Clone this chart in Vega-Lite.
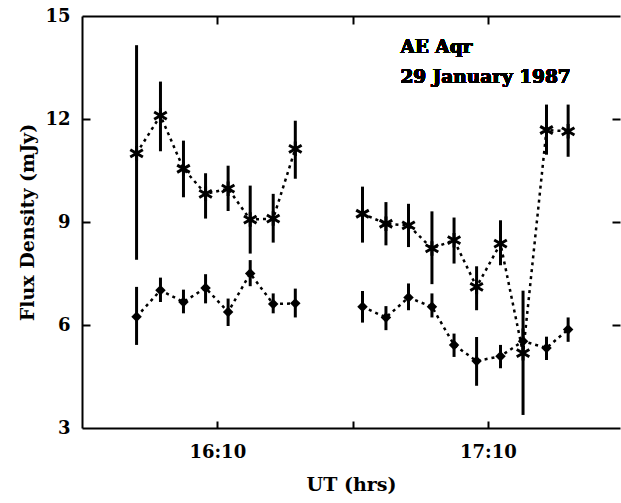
{
  "$schema": "https://vega.github.io/schema/vega-lite/v6.json",
  "autosize": "none",
  "width": 538,
  "height": 412,
  "padding": {"left": 82, "top": 16, "right": 1, "bottom": 75},
  "background": "white",
  "config": {
    "view": {"stroke": null},
    "font": "DejaVu Serif",
    "axis": {
      "grid": false,
      "domainColor": "black",
      "domainWidth": 2,
      "tickColor": "black",
      "tickWidth": 2,
      "labelColor": "black",
      "titleColor": "black",
      "labelFont": "DejaVu Serif",
      "titleFont": "DejaVu Serif",
      "labelFontWeight": "bold",
      "titleFontWeight": "bold",
      "labelFontSize": 18,
      "titleFontSize": 19
    }
  },
  "datasets": {
    "flux": [
      {"t": 952.1, "flux": 11.0, "lo": 7.9, "hi": 14.15, "series": "ast", "grp": 1},
      {"t": 957.4, "flux": 12.1, "lo": 11.06, "hi": 13.09, "series": "ast", "grp": 1},
      {"t": 962.5, "flux": 10.55, "lo": 9.72, "hi": 11.37, "series": "ast", "grp": 1},
      {"t": 967.4, "flux": 9.82, "lo": 9.1, "hi": 10.42, "series": "ast", "grp": 1},
      {"t": 972.4, "flux": 9.97, "lo": 9.32, "hi": 10.64, "series": "ast", "grp": 1},
      {"t": 977.3, "flux": 9.07, "lo": 8.08, "hi": 10.06, "series": "ast", "grp": 1},
      {"t": 982.4, "flux": 9.1, "lo": 8.4, "hi": 9.82, "series": "ast", "grp": 1},
      {"t": 987.3, "flux": 11.13, "lo": 10.26, "hi": 11.95, "series": "ast", "grp": 1},
      {"t": 1002.2, "flux": 9.24, "lo": 8.4, "hi": 10.03, "series": "ast", "grp": 2},
      {"t": 1007.4, "flux": 8.95, "lo": 8.32, "hi": 9.58, "series": "ast", "grp": 2},
      {"t": 1012.4, "flux": 8.9, "lo": 8.27, "hi": 9.53, "series": "ast", "grp": 2},
      {"t": 1017.6, "flux": 8.23, "lo": 7.19, "hi": 9.31, "series": "ast", "grp": 2},
      {"t": 1022.5, "flux": 8.47, "lo": 7.79, "hi": 9.13, "series": "ast", "grp": 2},
      {"t": 1027.5, "flux": 7.11, "lo": 6.43, "hi": 7.71, "series": "ast", "grp": 2},
      {"t": 1032.8, "flux": 8.37, "lo": 7.74, "hi": 9.05, "series": "ast", "grp": 2},
      {"t": 1037.8, "flux": 5.18, "lo": 3.38, "hi": 7.0, "series": "ast", "grp": 2},
      {"t": 1043.0, "flux": 11.68, "lo": 10.96, "hi": 12.42, "series": "ast", "grp": 2},
      {"t": 1047.8, "flux": 11.64, "lo": 10.9, "hi": 12.42, "series": "ast", "grp": 2},
      {"t": 952.1, "flux": 6.24, "lo": 5.42, "hi": 7.11, "series": "dia", "grp": 1},
      {"t": 957.4, "flux": 7.01, "lo": 6.67, "hi": 7.38, "series": "dia", "grp": 1},
      {"t": 962.5, "flux": 6.67, "lo": 6.34, "hi": 7.03, "series": "dia", "grp": 1},
      {"t": 967.4, "flux": 7.08, "lo": 6.63, "hi": 7.48, "series": "dia", "grp": 1},
      {"t": 972.4, "flux": 6.38, "lo": 5.97, "hi": 6.77, "series": "dia", "grp": 1},
      {"t": 977.3, "flux": 7.5, "lo": 7.13, "hi": 7.89, "series": "dia", "grp": 1},
      {"t": 982.4, "flux": 6.61, "lo": 6.34, "hi": 6.92, "series": "dia", "grp": 1},
      {"t": 987.3, "flux": 6.63, "lo": 6.22, "hi": 7.06, "series": "dia", "grp": 1},
      {"t": 1002.2, "flux": 6.53, "lo": 6.07, "hi": 6.99, "series": "dia", "grp": 2},
      {"t": 1007.4, "flux": 6.22, "lo": 5.85, "hi": 6.55, "series": "dia", "grp": 2},
      {"t": 1012.4, "flux": 6.8, "lo": 6.43, "hi": 7.21, "series": "dia", "grp": 2},
      {"t": 1017.6, "flux": 6.53, "lo": 6.22, "hi": 6.92, "series": "dia", "grp": 2},
      {"t": 1022.5, "flux": 5.42, "lo": 5.07, "hi": 5.75, "series": "dia", "grp": 2},
      {"t": 1027.5, "flux": 4.95, "lo": 4.23, "hi": 5.65, "series": "dia", "grp": 2},
      {"t": 1032.8, "flux": 5.09, "lo": 4.74, "hi": 5.42, "series": "dia", "grp": 2},
      {"t": 1037.8, "flux": 5.53, "lo": 5.15, "hi": 5.9, "series": "dia", "grp": 2},
      {"t": 1043.0, "flux": 5.33, "lo": 4.98, "hi": 5.66, "series": "dia", "grp": 2},
      {"t": 1047.8, "flux": 5.87, "lo": 5.51, "hi": 6.22, "series": "dia", "grp": 2}
    ]
  },
  "data": {"name": "flux"},
  "layer": [
    {
      "encoding": {
        "x": {
          "field": "t",
          "type": "quantitative",
          "scale": {"domain": [940, 1059.3], "nice": false, "zero": false},
          "axis": {
            "orient": "bottom",
            "title": "UT (hrs)",
            "values": [970, 1000, 1030],
            "labelExpr": "datum.value == 970 ? '16:10' : (datum.value == 1030 ? '17:10' : '')",
            "ticks": false,
            "labelPadding": 15,
            "titlePadding": 14
          }
        },
        "y": {
          "field": "flux",
          "type": "quantitative",
          "scale": {"domain": [3, 15], "nice": false, "zero": false},
          "axis": {
            "orient": "left",
            "title": "Flux Density (mJy)",
            "values": [3, 6, 9, 12, 15],
            "ticks": false,
            "labelPadding": 12,
            "titlePadding": 7
          }
        }
      },
      "layer": [
        {
          "mark": {"type": "rule", "strokeWidth": 3, "color": "black"},
          "encoding": {
            "y": {"field": "lo", "type": "quantitative"},
            "y2": {"field": "hi"}
          }
        },
        {
          "mark": {"type": "line", "color": "black", "strokeWidth": 2.5, "strokeDash": [3, 4]},
          "encoding": {
            "detail": [{"field": "series"}, {"field": "grp"}]
          }
        },
        {
          "transform": [{"filter": "datum.series == 'ast'"}],
          "mark": {
            "type": "point",
            "shape": "M0,-1L0,1M-0.87,-0.5L0.87,0.5M-0.87,0.5L0.87,-0.5",
            "size": 210,
            "filled": false,
            "stroke": "black",
            "strokeWidth": 3,
            "opacity": 1
          }
        },
        {
          "transform": [{"filter": "datum.series == 'dia'"}],
          "mark": {
            "type": "point",
            "shape": "diamond",
            "size": 110,
            "filled": true,
            "color": "black",
            "opacity": 1
          }
        },
        {
          "mark": {"type": "text", "align": "left", "baseline": "alphabetic", "font": "DejaVu Serif", "fontWeight": "bold", "fontSize": 18.5, "color": "black"},
          "encoding": {
            "x": {"datum": 1010.6, "type": "quantitative"},
            "y": {"datum": 13.92, "type": "quantitative"},
            "text": {"value": "AE Aqr"}
          }
        },
        {
          "mark": {"type": "text", "align": "left", "baseline": "alphabetic", "font": "DejaVu Serif", "fontWeight": "bold", "fontSize": 18.5, "color": "black"},
          "encoding": {
            "x": {"datum": 1010.6, "type": "quantitative"},
            "y": {"datum": 13.05, "type": "quantitative"},
            "text": {"value": "29 January 1987"}
          }
        }
      ]
    },
    {
      "mark": {"type": "point", "opacity": 0},
      "encoding": {
        "x": {
          "field": "t",
          "type": "quantitative",
          "axis": {"orient": "top", "title": null, "labels": false, "ticks": false, "domain": true}
        },
        "y": {
          "field": "flux",
          "type": "quantitative",
          "axis": {"orient": "right", "title": null, "labels": false, "domain": false, "values": [6, 9, 12], "tickSize": 8, "offset": -8}
        }
      }
    },
    {
      "mark": {"type": "point", "opacity": 0},
      "encoding": {
        "x": {
          "field": "t",
          "type": "quantitative",
          "axis": {"orient": "top", "title": null, "labels": false, "domain": false, "values": [970, 1000, 1030], "tickSize": 8, "offset": -8}
        },
        "y": {
          "field": "flux",
          "type": "quantitative",
          "axis": {"orient": "left", "title": null, "labels": false, "domain": false, "values": [6, 9, 12], "tickSize": 8, "offset": -8}
        }
      }
    },
    {
      "mark": {"type": "point", "opacity": 0},
      "encoding": {
        "x": {
          "field": "t",
          "type": "quantitative",
          "axis": {"orient": "bottom", "title": null, "labels": false, "domain": false, "values": [970, 1000, 1030], "tickSize": 7, "offset": -7}
        },
        "y": {
          "field": "flux",
          "type": "quantitative",
          "axis": null
        }
      }
    }
  ],
  "resolve": {"axis": {"x": "independent", "y": "independent"}}
}
